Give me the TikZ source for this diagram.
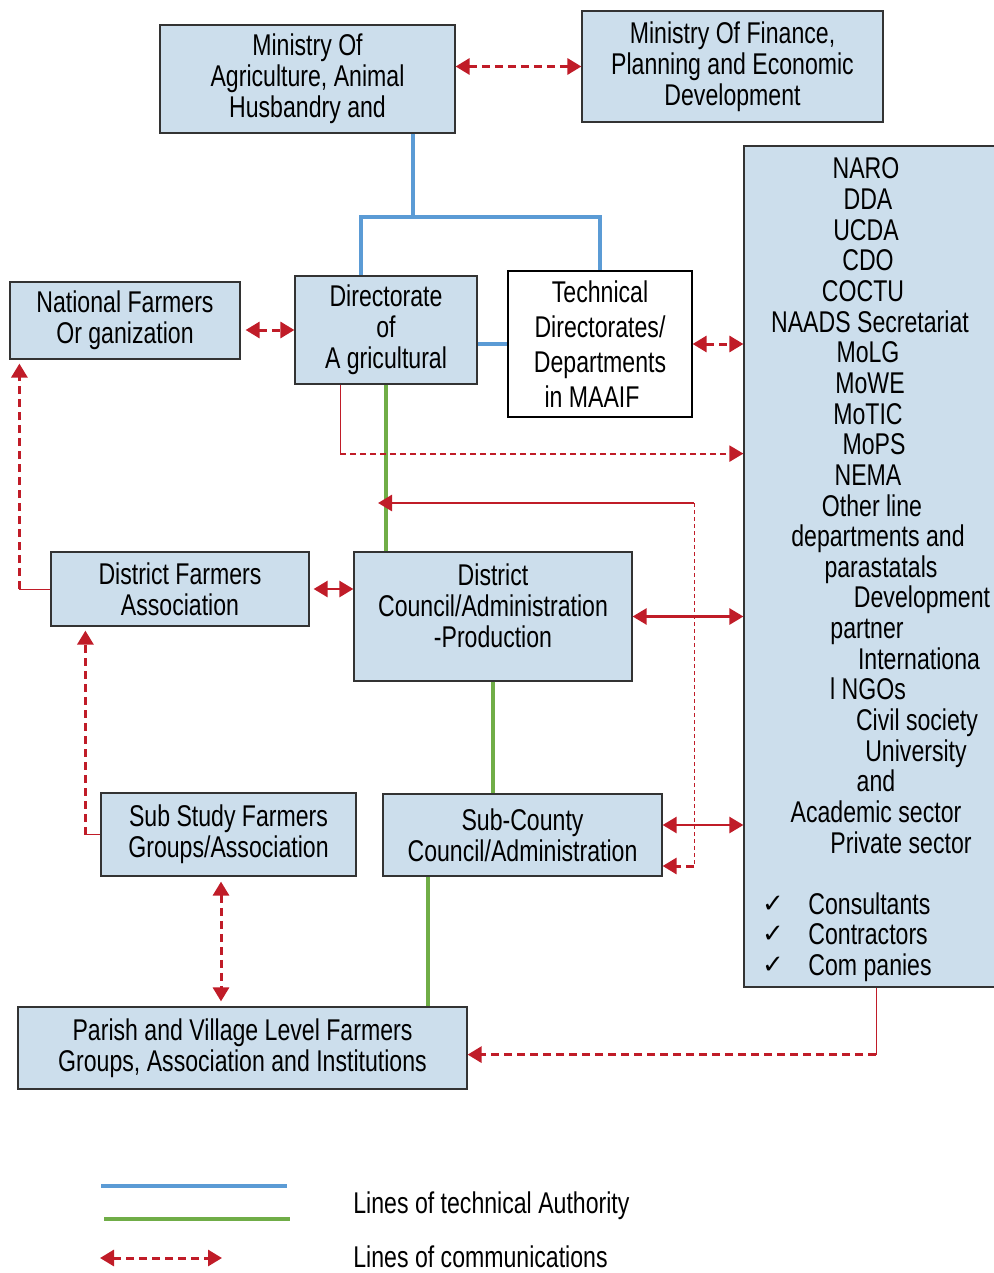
\documentclass[tikz,border=0pt]{standalone}
\usepackage{fontspec}
\setmainfont{Liberation Sans}[FakeStretch=0.77]
\newfontfamily\checkfont{DejaVu Sans}
\usetikzlibrary{arrows.meta}
\definecolor{boxblue}{RGB}{204,222,236}
\definecolor{techblue}{RGB}{91,155,213}
\definecolor{admingreen}{RGB}{112,173,71}
\definecolor{commred}{RGB}{192,28,40}

\tikzset{
  box/.style={draw=black!80,line width=0.6pt,fill=boxblue,align=center,inner sep=2pt,
    font=\fontsize{15}{15.5}\selectfont},
  techline/.style={techblue,line width=1.6pt},
  adminline/.style={admingreen,line width=1.6pt},
  comm/.style={commred,line width=1.5pt,dash pattern=on 4pt off 2.5pt},
  commthin/.style={commred,line width=1.1pt,dash pattern=on 3pt off 2pt},
  commsolid/.style={commred,line width=1.3pt},
  leader/.style={commred,line width=0.5pt},
  listtext/.style={font=\fontsize{15}{15.5}\selectfont,anchor=base,inner sep=0pt},
}

\begin{document}
\begin{tikzpicture}[x=0.5pt,y=-0.5pt,>={Triangle[length=7pt,width=8pt]}]
  \useasboundingbox (0,0) rectangle (994,1273);

  % boxes
  \node[box,minimum width=147.5pt,minimum height=54pt] (maaif) at (307.5,79) {Ministry Of\\Agriculture, Animal\\Husbandry and};
  \node[box,minimum width=150.5pt,minimum height=55.5pt] (mofped) at (732.5,66.5) {Ministry Of Finance,\\Planning and Economic\\Development};
  \node[box,minimum width=128pt,minimum height=420.5pt] (others) at (872,566.5) {};
  \node[box,minimum width=115pt,minimum height=38.5pt] (nfo) at (125,320.5) {National Farmers\\Or ganization};
  \node[box,minimum width=91pt,minimum height=54pt] (doa) at (386,330) {Directorate\\of\\A gricultural};
  \node[box,fill=white,draw=black,minimum width=92pt,minimum height=73pt,font=\fontsize{15}{17.5}\selectfont] (tech) at (600,344) {Technical\\Directorates/\\Departments\\in MAAIF\hspace*{8pt}};
  \node[box,minimum width=129pt,minimum height=37pt] (dfa) at (180,589) {District Farmers\\Association};
  \node[box,minimum width=139pt,minimum height=64.5pt] (dc) at (493,616.5) {};
  \node[align=center,font=\fontsize{15}{15.5}\selectfont] (dctext) at (493,606) {District\\Council/Administration\\-Production};
  \node[box,minimum width=127.5pt,minimum height=41.5pt] (ssf) at (228.5,834.5) {Sub Study Farmers\\Groups/Association};
  \node[box,minimum width=139.5pt,minimum height=41pt] (sc) at (522.5,835) {Sub-County\\Council/Administration};
  \node[box,minimum width=224.5pt,minimum height=41pt] (pvl) at (242.5,1048) {Parish and Village Level Farmers\\Groups, Association and Institutions};

  % list of partner institutions
  \foreach \cx/\txt [count=\i] in {866/NARO,868/DDA,866/UCDA,868/CDO,863/COCTU,870/NAADS Secretariat,868/MoLG,870/MoWE,868/MoTIC,874/MoPS,868/NEMA,872/Other line,878/departments and,881/parastatals,922/Development,867/partner,919/Internationa,868/l NGOs,917/Civil society,916/University,876/and,876/Academic sector,901/Private sector}
    \node[listtext] (item\i) at (\cx,{179+30.64*(\i-1)}) {\txt};
  \foreach \txt [count=\i] in {Consultants,Contractors,Com panies} {
    \node[listtext,anchor=base west] (firm\i) at (808,{914+30.5*(\i-1)}) {\txt};
    \node[listtext,font=\checkfont\fontsize{13}{13}\selectfont] (tick\i) at (773,{912+30.5*(\i-1)}) {\char"2713};
  }

  % lines of technical authority
  \coordinate (tjoin) at (413,217);
  \draw[techline] (tjoin |- maaif.south) -- (tjoin);
  \draw[techline] ([xshift=-12.5pt]doa.north) |- (tech.north |- tjoin) -- (tech.north);
  \draw[techline] (tech.west -| doa.east) -- (tech.west);
  \draw[adminline] (doa.south) -- (doa.south |- dc.north);
  \draw[adminline] (dc.south) -- (dc.south |- sc.north);
  \draw[adminline] ([xshift=-47.25pt]sc.south) -- ([xshift=-47.25pt]sc.south |- pvl.north);

  % lines of communication
  \draw[comm,<->] (maaif.east |- mofped.west) -- (mofped.west);
  \draw[comm,<->,shorten <=2.5pt] (nfo.east |- doa.west) -- (doa.west);
  \draw[comm,<->] (tech.east) -- (tech.east -| others.west);
  \draw[leader] ([xshift=-23pt]doa.south) -- ++(0,69) coordinate (doaturn);
  \draw[commthin,->] (doaturn) -- (doaturn -| others.west);
  \coordinate (backtop) at (694,503);
  \coordinate (backbot) at (694,866);
  \draw[leader,dash pattern=on 2pt off 1.5pt] (backtop) -- (backbot);
  \draw[commsolid,->] (backtop) -- ([xshift=-4pt]backtop -| doa.south);
  \draw[comm,->] (backbot) -- (backbot -| sc.east);
  \draw[commsolid,<->] (dc.east) -- (dc.east -| others.west);
  \draw[commsolid,<->] ([yshift=5pt]sc.east) -- ([yshift=5pt]sc.east -| others.west);
  \draw[commsolid,<->,shorten <=2pt] (dfa.east) -- (dfa.east -| dc.west);
  \draw[leader] (dfa.west) -- ++(-31,0) coordinate (dfaturn);
  \draw[comm,->,shorten >=2pt] (dfaturn) -- (dfaturn |- nfo.south);
  \draw[leader] (ssf.west) -- ++(-15,0) coordinate (ssfturn);
  \draw[comm,->,shorten >=2pt] (ssfturn) -- (ssfturn |- dfa.south);
  \draw[comm,<->,shorten <=2.5pt,shorten >=2.5pt] ([xshift=-3.75pt]ssf.south) -- ([xshift=-3.75pt]ssf.south |- pvl.north);
  \draw[leader] ([xshift=2pt]others.south) -- ++(0,67) coordinate (othturn);
  \draw[comm,->] (othturn) -- (othturn -| pvl.east);

  % key
  \coordinate (keyblueA) at (101,1186);
  \coordinate (keyblueB) at (287,1186);
  \coordinate (keygreenA) at (104,1219);
  \coordinate (keygreenB) at (290,1219);
  \coordinate (keyredA) at (100,1258);
  \coordinate (keyredB) at (222,1258);
  \draw[techline] (keyblueA) -- (keyblueB);
  \draw[adminline] (keygreenA) -- (keygreenB);
  \draw[comm,<->] (keyredA) -- (keyredB);
  \node[listtext,anchor=base west] (keytech) at (353,1213) {Lines of technical Authority};
  \node[listtext,anchor=base west] (keycomm) at (353,1267) {Lines of communications};
\end{tikzpicture}
\end{document}
